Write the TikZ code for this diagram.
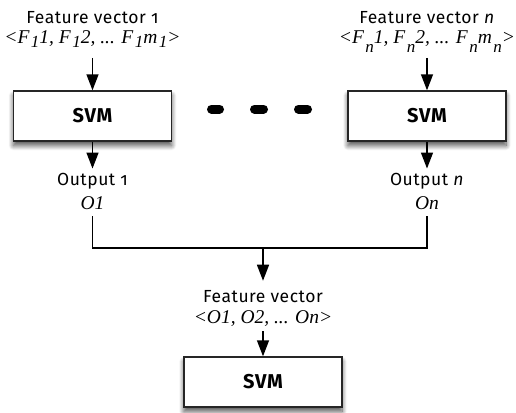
\documentclass[tikz,border=0pt]{standalone}
\usepackage{fontspec}
\setmainfont{Fira Sans}[Numbers=OldStyle]
\newfontfamily\vecfont{Liberation Serif}
\usetikzlibrary{arrows.meta,shadows.blur}

% lowered index used in the feature-vector formulas
\newcommand{\idx}[2][0.2em]{\hspace{1.5pt}\raisebox{-#1}{\fontsize{17}{17}\selectfont #2}}

\tikzset{
  svmbox/.style={draw=black!85, line width=1.4pt, fill=white,
    minimum width=158pt, minimum height=50pt, inner sep=0pt,
    font=\fontsize{20}{22}\selectfont\bfseries\addfontfeature{LetterSpace=4},
    blur shadow={shadow xshift=0pt, shadow yshift=-4.5pt,
      shadow blur radius=5pt, shadow blur steps=10, shadow opacity=70}},
  lbl/.style={inner sep=0pt, anchor=base,
    font=\fontsize{17.5}{20}\selectfont\addfontfeature{LetterSpace=3}},
  vec/.style={inner sep=0pt, anchor=base, font=\vecfont\itshape\fontsize{19.5}{22}\selectfont},
  arr/.style={-{Triangle[width=12pt,length=16pt]}, line width=1.4pt},
  conn/.style={line width=1.4pt},
  dotdash/.style={line width=9pt, line cap=round}
}

\begin{document}
\begin{tikzpicture}[x=1pt,y=-1pt]
\useasboundingbox (0,0) rectangle (516,412);

% classifier boxes
\node[svmbox] (s1) at (92.5,116) {SVM};
\node[svmbox] (sn) at (427,116) {SVM};
\node[svmbox] (s0) at (263,382) {SVM};

% ellipsis between the first and the last classifier
\draw[dotdash] (211.5,109) -- (219.5,109);
\draw[dotdash] (254.5,109) -- (263.5,109);
\draw[dotdash] (298.5,109) -- (307.5,109);

% input feature vectors
\node[lbl] (fv1) at (92.5,24) {Feature vector 1};
\node[vec] (fv1v) at (92.5,44) {<F\idx{1}1, F\idx{1}2, ... F\idx{1}m\idx{1}>};
\node[lbl] (fvn) at (427,24) {Feature vector \textit{n}};
\node[vec] (fvnv) at (427,44) {<F\idx[0.45em]{n}1, F\idx[0.45em]{n}2, ... F\idx[0.45em]{n}m\idx[0.45em]{n}>};

% outputs of the first-level classifiers
\node[lbl] (o1) at (92.5,185) {Output 1};
\node[vec] (o1v) at (92.5,209) {O1};
\node[lbl] (on) at (427,185) {Output \textit{n}};
\node[vec] (onv) at (427,209) {On};

% combined feature vector
\node[lbl] (fv) at (263,302) {Feature vector};
\node[vec] (fvv) at (263,323) {<O1, O2, ... On>};

\coordinate (j1) at (92.5,248);
\coordinate (jn) at (427,248);
\coordinate (jm) at (263,248);

\draw[arr] (92.5,58) -- (s1.north);
\draw[arr] (427,58) -- (sn.north);
\draw[arr, shorten >=4pt] (s1.south) -- (o1.north);
\draw[arr, shorten >=4pt] (sn.south) -- (on.north);
\draw[conn, shorten <=7pt, shorten >=7pt] (o1v.south) -- (j1) -- (jn) -- (onv.south);
\draw[arr, shorten >=9pt] (jm) -- (fv.north);
\draw[arr, shorten <=5pt] (fvv.south) -- (s0.north);
\end{tikzpicture}
\end{document}
